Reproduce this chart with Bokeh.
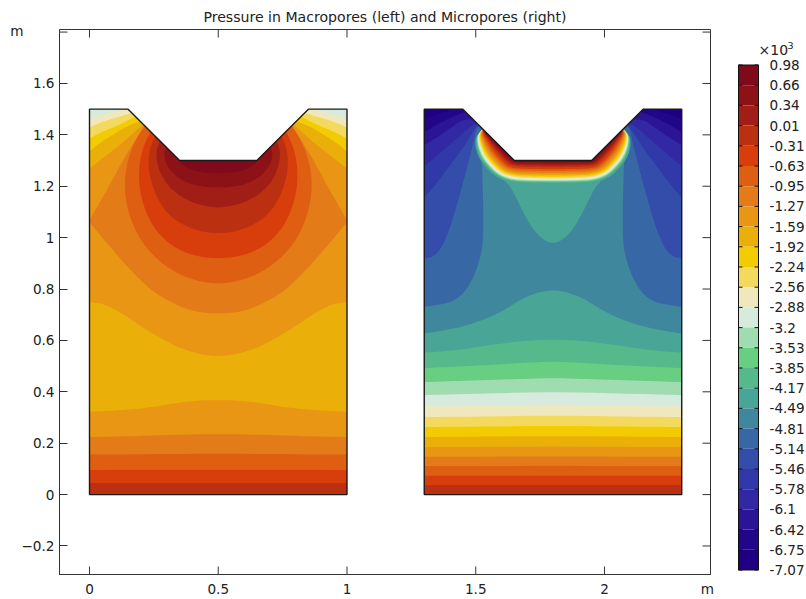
from bokeh.plotting import figure
from bokeh.layouts import row
from bokeh.models import LinearAxis, FixedTicker, Range1d
from bokeh.core.properties import value
from bokeh.embed import file_html
from bokeh.resources import INLINE

FONT = "DejaVu Sans"
INK = "#222222"
TITLE = "Pressure in Macropores (left) and Micropores (right)"

BAND_COLORS = ["#7E0A1C", "#8C1218", "#A11E16", "#BC3012", "#D83E0C", "#DF5F12", "#E37B18",
               "#E89614", "#EAB009", "#F2CC00", "#F3DA5E", "#EFE8BF", "#D6EADD", "#9FDDB0",
               "#68CE82", "#56B98C", "#49A595", "#3F879C", "#3867A6", "#344DAB", "#3139A8",
               "#3228A4", "#2C1496", "#22068A", "#1E0080"]
BAR_LABELS = ["0.98", "0.66", "0.34", "0.01", "-0.31", "-0.63", "-0.95", "-1.27", "-1.59",
              "-1.92", "-2.24", "-2.56", "-2.88", "-3.2", "-3.53", "-3.85", "-4.17", "-4.49",
              "-4.81", "-5.14", "-5.46", "-5.78", "-6.1", "-6.42", "-6.75", "-7.07"]
X_TICKS = [0, 0.5, 1, 1.5, 2]
Y_TICKS = [-0.2, 0, 0.2, 0.4, 0.6, 0.8, 1, 1.2, 1.4, 1.6]
Y_UNLABELLED = [1.8]
X_UNIT_AT = 2.4
Y_UNIT_AT = 1.805
UNIT = "m"
XMIN, XMAX, YMIN, YMAX = -0.1165, 2.4117, -0.311, 1.81

# Domain half-outline (u across one block, y upward); mirrored about u = 0.5
DOMAIN = [(0, 0), (0, 1.5), (0.15, 1.5), (0.35, 1.3), (0.5, 1.3)]
LEFT_X0 = 0.0
RIGHT_X0 = 1.3

# ---- Macropores: iso-lines, half-curves u=0..0.5 ----
M4 = [(0, 0.045), (0.5, 0.045)]
M5 = [(0, 0.096), (0.5, 0.097)]
M6 = [(0, 0.156), (0.25, 0.157), (0.5, 0.16)]
M7 = [(0, 0.224), (0.12, 0.226), (0.25, 0.230), (0.38, 0.234), (0.5, 0.235)]
M8 = [(0, 0.322), (0.1, 0.327), (0.21, 0.335), (0.34, 0.357), (0.42, 0.366), (0.5, 0.368)]
M7_UP = [(0, 0.75), (0.056, 0.741), (0.1, 0.72), (0.146, 0.692), (0.2, 0.655), (0.276, 0.609),
         (0.34, 0.575), (0.405, 0.552), (0.45, 0.543), (0.5, 0.539)]
M6_LOW = [(0, 1.06), (0.08, 0.964), (0.146, 0.887), (0.237, 0.796), (0.31, 0.752),
          (0.385, 0.718), (0.44, 0.708), (0.5, 0.705)]
M6_UP = [(0, 1.068), (0.056, 1.165), (0.1, 1.245), (0.135, 1.31), (0.175, 1.375), (0.215, 1.44)]
M_C8 = [(0, 1.269), (0.075, 1.3275), (0.14, 1.3793), (0.2045, 1.4376), (0.215, 1.44)]
M_C9 = [(0, 1.334), (0.036, 1.3664), (0.088, 1.3988), (0.14, 1.431), (0.2, 1.455)]
M_C10 = [(0, 1.3858), (0.049, 1.4118), (0.114, 1.4377), (0.18, 1.472)]
M_C11 = [(0, 1.4286), (0.049, 1.4507), (0.114, 1.470), (0.166, 1.486)]
M_C12 = [(0, 1.4636), (0.049, 1.4766), (0.114, 1.496), (0.146, 1.5)]
M_A5 = [(0.2175, 1.4377), (0.1786, 1.3794), (0.153, 1.3146), (0.1385, 1.25), (0.137, 1.185),
        (0.146, 1.1198), (0.166, 1.055), (0.198, 0.9903), (0.25, 0.9255), (0.3275, 0.867),
        (0.405, 0.8347), (0.5, 0.8178)]
M_A4 = [(0.2395, 1.4183), (0.208, 1.3534), (0.194, 1.2886), (0.1916, 1.2237), (0.2, 1.159),
        (0.221, 1.094), (0.256, 1.029), (0.3146, 0.9708), (0.379, 0.9385), (0.444, 0.9229),
        (0.5, 0.919)]
M_A3 = [(0.256, 1.399), (0.234, 1.347), (0.228, 1.2886), (0.237, 1.2237), (0.263, 1.1525),
        (0.3016, 1.094), (0.353, 1.055), (0.418, 1.0267), (0.5, 1.015)]
M_A2 = [(0.2757, 1.3796), (0.259, 1.3405), (0.263, 1.2821), (0.2887, 1.2237), (0.3275, 1.1785),
        (0.379, 1.146), (0.431, 1.1265), (0.5, 1.116)]
M_A1 = [(0.304, 1.36), (0.286, 1.3275), (0.3016, 1.2756), (0.3405, 1.234), (0.392, 1.208),
        (0.444, 1.198), (0.5, 1.194)]
M_A0 = [(0.335, 1.32), (0.36, 1.282), (0.399, 1.2626), (0.444, 1.2525), (0.5, 1.25)]

# ---- Micropores ----
P4 = [(0, 0.037), (0.5, 0.037)]
P5 = [(0, 0.073), (0.5, 0.073)]
P6 = [(0, 0.111), (0.5, 0.112)]
P7 = [(0, 0.147), (0.5, 0.1485)]
P8 = [(0, 0.185), (0.25, 0.186), (0.5, 0.187)]
P9 = [(0, 0.224), (0.25, 0.226), (0.5, 0.228)]
P10 = [(0, 0.263), (0.25, 0.265), (0.5, 0.268)]
P11 = [(0, 0.302), (0.25, 0.304), (0.5, 0.308)]
P12 = [(0, 0.343), (0.25, 0.346), (0.5, 0.351)]
P13 = [(0, 0.387), (0.25, 0.3936), (0.5, 0.400)]
P14 = [(0, 0.438), (0.25, 0.4455), (0.5, 0.4546)]
P15 = [(0, 0.492), (0.25, 0.504), (0.38, 0.512), (0.5, 0.518)]
P16 = [(0, 0.552), (0.126, 0.562), (0.256, 0.582), (0.386, 0.5986), (0.5, 0.604)]
P17 = [(0, 0.627), (0.101, 0.643), (0.192, 0.666), (0.295, 0.708), (0.386, 0.767),
       (0.45, 0.789), (0.5, 0.796)]
P_C18 = [(0, 0.731), (0.05, 0.7374), (0.109, 0.75), (0.154, 0.783), (0.193, 0.848),
         (0.219, 0.9254), (0.229, 0.99), (0.229, 1.12), (0.2265, 1.211), (0.225, 1.282),
         (0.219, 1.3146), (0.225, 1.43)]
P_C19 = [(0, 0.919), (0.0375, 0.9254), (0.07, 0.964), (0.102, 1.042), (0.128, 1.133),
         (0.154, 1.224), (0.1735, 1.3016), (0.193, 1.3795), (0.2, 1.418), (0.215, 1.44)]
P_C20 = [(0, 1.1565), (0.0375, 1.1978), (0.076, 1.2496), (0.115, 1.3016), (0.154, 1.3535),
         (0.186, 1.405), (0.206, 1.4378), (0.22, 1.435)]
P_C21 = [(0, 1.278), (0.0375, 1.308), (0.089, 1.353), (0.141, 1.399), (0.186, 1.4378), (0.21, 1.445)]
P_C22 = [(0, 1.36), (0.05, 1.39), (0.1, 1.425), (0.15, 1.46), (0.19, 1.46)]
P_C23 = [(0, 1.41), (0.05, 1.44), (0.1, 1.466), (0.16, 1.49)]
P_C24 = [(0, 1.4636), (0.05, 1.48), (0.1, 1.495), (0.11, 1.5)]
P_BUMP = [(0.29, 1.25), (0.3094, 1.2237), (0.3353, 1.1978), (0.3612, 1.1459), (0.387, 1.094),
          (0.4194, 1.0357), (0.4518, 1.0006), (0.4777, 0.9838), (0.5, 0.9786)]
# Hot arch under the notch: its outer edge and the notch side it closes on
ARCH_OUT = [(0.2288, 1.4248), (0.2055, 1.3989), (0.2016, 1.3768), (0.2055, 1.347), (0.2185, 1.312),
            (0.2404, 1.2821), (0.2676, 1.2535), (0.2961, 1.2341), (0.3324, 1.2211),
            (0.3738, 1.2159), (0.5, 1.2133)]
ARCH_IN = [(0.2288, 1.4248), (0.2405, 1.4095), (0.2598, 1.3902), (0.2806, 1.3694), (0.3026, 1.3474),
           (0.322, 1.328), (0.3414, 1.3086), (0.3544, 1.3), (0.38, 1.3), (0.426, 1.3), (0.5, 1.3)]
# depth of each colour's outer edge in the arch, band index -> share of arch thickness
ARCH_DEPTH = [(16, 1.07), (15, 1.0), (14, 0.965), (13, 0.93), (12, 0.895), (11, 0.85), (10, 0.80),
              (9, 0.74), (8, 0.68), (7, 0.62), (6, 0.55), (5, 0.47), (4, 0.39), (3, 0.30),
              (2, 0.22), (1, 0.14), (0, 0.07)]


def rounded(pts, passes=2):
    """Corner-cut the polyline between the read points so an iso-line draws as a curve."""
    for _ in range(passes):
        out = [pts[0]]
        for a, b in zip(pts, pts[1:]):
            out.append((0.75 * a[0] + 0.25 * b[0], 0.75 * a[1] + 0.25 * b[1]))
            out.append((0.25 * a[0] + 0.75 * b[0], 0.25 * a[1] + 0.75 * b[1]))
        out.append(pts[-1])
        pts = out
    return pts


def full(curve, x0, smooth=True):
    """Half-curve and its mirror image, left to right."""
    a = [(x0 + u, y) for u, y in curve]
    b = [(x0 + 1 - u, y) for u, y in reversed(curve) if u < 0.5]
    return rounded(a + b) if smooth else a + b


def above(curve, x0):
    return full(curve, x0) + [(x0 + 1, 1.5), (x0, 1.5)]


def corner(curve, x0):
    tip = [(0.15, 1.5), (0, 1.5)]
    c = rounded(curve)
    return [[(x0 + u, y) for u, y in c + tip],
            [(x0 + 1 - u, y) for u, y in c + tip]]


xs, ys, cs = [], [], []


def add(poly, band):
    xs.append([q[0] for q in poly])
    ys.append([q[1] for q in poly])
    cs.append(BAND_COLORS[band])


def domain(x0):
    return full(DOMAIN, x0, smooth=False)


# Macropores, painted back to front
add(domain(LEFT_X0), 3)
for band, c in [(4, M4), (5, M5), (6, M6), (7, M7), (8, M8), (7, M7_UP)]:
    add(above(c, LEFT_X0), band)
low6 = full(M6_LOW, LEFT_X0)
up6 = rounded(M6_UP)
add(low6 + [(LEFT_X0 + 1 - u, y) for u, y in up6] + [(LEFT_X0 + u, y) for u, y in reversed(up6)], 6)
for band, c in [(8, M_C8), (9, M_C9), (10, M_C10), (11, M_C11), (12, M_C12)]:
    for poly in corner(c, LEFT_X0):
        add(poly, band)
for band, c in [(5, M_A5), (4, M_A4), (3, M_A3), (2, M_A2), (1, M_A1), (0, M_A0)]:
    add(full(c, LEFT_X0), band)

# Micropores
add(domain(RIGHT_X0), 3)
for band, c in [(4, P4), (5, P5), (6, P6), (7, P7), (8, P8), (9, P9), (10, P10), (11, P11),
                (12, P12), (13, P13), (14, P14), (15, P15), (16, P16), (17, P17)]:
    add(above(c, RIGHT_X0), band)
for band, c in [(18, P_C18), (19, P_C19), (20, P_C20), (21, P_C21), (22, P_C22), (23, P_C23), (24, P_C24)]:
    for poly in corner(c, RIGHT_X0):
        add(poly, band)
add(full(P_BUMP, RIGHT_X0), 16)
for band, f in ARCH_DEPTH:
    blend = [(i[0] + (o[0] - i[0]) * f, i[1] + (o[1] - i[1]) * f) for i, o in zip(ARCH_IN, ARCH_OUT)]
    add(full(blend, RIGHT_X0), band)

p = figure(width=714, height=599, output_backend="svg", toolbar_location=None,
           x_range=Range1d(XMIN, XMAX), y_range=Range1d(YMIN, YMAX), frame_align=False,
           min_border_left=59, min_border_right=4, min_border_top=29, min_border_bottom=24,
           x_axis_type=None, y_axis_type=None, background_fill_color="white", border_fill_color="white")
p.grid.visible = False
p.outline_line_color = "#333333"
p.title.text = TITLE
p.title.align = "center"
p.title.text_font = FONT
p.title.text_font_size = "14.1px"
p.title.text_font_style = "normal"
p.title.text_color = INK
p.title.standoff = 9


def axis(ticker, **kw):
    return LinearAxis(ticker=FixedTicker(ticks=ticker), minor_tick_line_color=None,
                      major_label_text_font=FONT, major_label_text_font_size="13.6px",
                      major_label_text_color=INK, **kw)


p.add_layout(axis(Y_TICKS, major_label_standoff=5, major_tick_in=8, major_tick_out=0,
                  axis_line_color="#333333", major_tick_line_color="#333333"), "left")
# unit of the y axis: a label-only axis beside the first one
p.add_layout(axis([Y_UNIT_AT], major_label_standoff=-5, major_tick_in=0, major_tick_out=0,
                  axis_line_color=None, major_tick_line_color=None,
                  major_label_overrides={Y_UNIT_AT: UNIT}), "left")
# x axis carries the unit among its labels; its tick marks are drawn below as segments
p.add_layout(axis(X_TICKS + [X_UNIT_AT], major_label_standoff=6, major_tick_in=0, major_tick_out=0,
                  axis_line_color="#333333", major_tick_line_color=None,
                  major_label_overrides={X_UNIT_AT: UNIT}), "below")

p.patches(xs, ys, fill_color=cs, line_color=None)
for x0 in (LEFT_X0, RIGHT_X0):
    a, b, c = DOMAIN[2:]
    notch = [(x0 + a[0], a[1] + 0.01), (x0 + a[0], a[1]), (x0 + b[0], b[1]), (x0 + c[0], c[1]),
             (x0 + 1 - b[0], b[1]), (x0 + 1 - a[0], a[1]), (x0 + 1 - a[0], a[1] + 0.01)]
    p.patch([q[0] for q in notch], [q[1] for q in notch], fill_color="white", line_color=None)
    outline = domain(x0)
    p.patch([q[0] for q in outline], [q[1] for q in outline], fill_color=None,
            line_color="#1a1a1a", line_width=1.4)

# Frame ticks: bottom and top sides, right side, and the unlabelled 1.8 on the left
tick_dx = (XMAX - XMIN) * 8 / 651
tick_dy = (YMAX - YMIN) * 8 / 545
all_y = Y_TICKS + Y_UNLABELLED
nx = len(X_TICKS)
p.segment(x0=X_TICKS, x1=X_TICKS, y0=[YMAX] * nx, y1=[YMAX - tick_dy] * nx, line_color="#333333", line_width=1)
p.segment(x0=X_TICKS, x1=X_TICKS, y0=[YMIN] * nx, y1=[YMIN + tick_dy] * nx, line_color="#333333", line_width=1)
p.segment(x0=[XMAX] * len(all_y), x1=[XMAX - tick_dx] * len(all_y), y0=all_y, y1=all_y,
          line_color="#333333", line_width=1)
p.segment(x0=[XMIN] * len(Y_UNLABELLED), x1=[XMIN + tick_dx] * len(Y_UNLABELLED), y0=Y_UNLABELLED,
          y1=Y_UNLABELLED, line_color="#333333", line_width=1)

# Colour bar: x = 0..1 across the bar, y in bands; the frame fills this small figure
n = len(BAND_COLORS)
BAR_PX = 20.0        # bar width in pixels, and one x unit
BAND_PX = 20.2       # one band height in pixels
bar = figure(width=92, height=599, output_backend="svg", toolbar_location=None,
             x_range=Range1d(-24 / BAR_PX, 68 / BAR_PX),
             y_range=Range1d(-29.5 / BAND_PX, n + 64.5 / BAND_PX), frame_align=False,
             min_border_left=0, min_border_right=0, min_border_top=0, min_border_bottom=0,
             x_axis_type=None, y_axis_type=None, background_fill_color="white", border_fill_color="white")
bar.grid.visible = False
bar.outline_line_color = None
bar.quad(left=0, right=1, bottom=[n - i - 1 for i in range(n)], top=[n - i for i in range(n)],
         fill_color=BAND_COLORS, line_color=None)
bar.quad(left=[0], right=[1], bottom=[0], top=[n], fill_color=None, line_color="#111111", line_width=1)
ticks = list(range(n + 1))
bar.segment(x0=[0] * (n + 1), x1=[0.2] * (n + 1), y0=ticks, y1=ticks, line_color="#111111", line_width=1)
bar.segment(x0=[0.8] * (n + 1), x1=[1] * (n + 1), y0=ticks, y1=ticks, line_color="#111111", line_width=1)
bar.text(x=[1.55] * (n + 1), y=[n - i for i in range(n + 1)], text=BAR_LABELS, text_font=value(FONT),
         text_font_size="13.6px", text_color=INK, text_align="left", text_baseline="middle")
bar.text(x=[1.0], y=[n + 0.72], text=["×10"], text_font=value(FONT), text_font_size="14px",
         text_color=INK, text_align="left", text_baseline="middle")
bar.text(x=[2.45], y=[n + 0.97], text=["3"], text_font=value(FONT), text_font_size="9.5px",
         text_color=INK, text_align="left", text_baseline="middle")

layout = row(p, bar, spacing=0)
open("out.html", "w").write(file_html(layout, INLINE))
